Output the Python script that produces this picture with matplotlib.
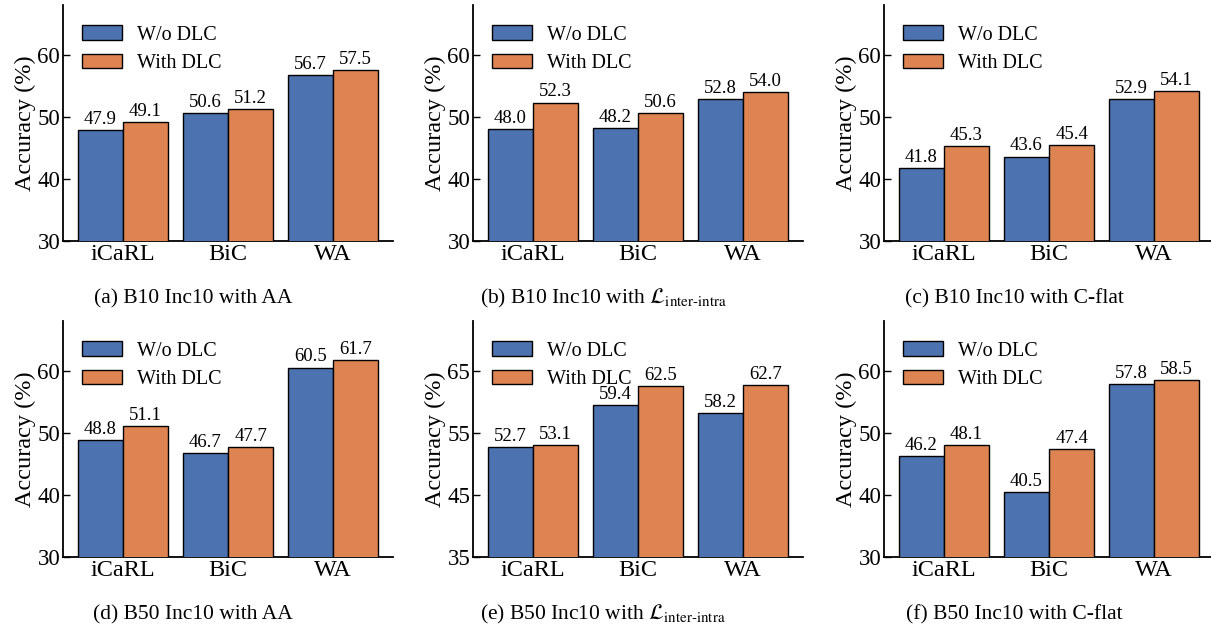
import matplotlib
matplotlib.use("Agg")
import matplotlib.pyplot as plt
from matplotlib.patches import Patch

plt.rcParams['font.family'] = ['Liberation Serif', 'DejaVu Serif']
plt.rcParams['mathtext.fontset'] = 'stix'

methods = ["iCaRL", "BiC", "WA"]
series_names = ["W/o DLC", "With DLC"]
colors = ["#4C72B0", "#DD8452"]

captions = [
    "(a) B10 Inc10 with AA",
    r"(b) B10 Inc10 with $\mathcal{L}_{\mathrm{inter}\text{-}\mathrm{intra}}$",
    "(c) B10 Inc10 with C-flat",
    "(d) B50 Inc10 with AA",
    r"(e) B50 Inc10 with $\mathcal{L}_{\mathrm{inter}\text{-}\mathrm{intra}}$",
    "(f) B50 Inc10 with C-flat",
]

wo_dlc = [
    [47.9, 50.6, 56.7],
    [48.0, 48.2, 52.8],
    [41.8, 43.6, 52.9],
    [48.8, 46.7, 60.5],
    [52.7, 59.4, 58.2],
    [46.2, 40.5, 57.8],
]
with_dlc = [
    [49.1, 51.2, 57.5],
    [52.3, 50.6, 54.0],
    [45.3, 45.4, 54.1],
    [51.1, 47.7, 61.7],
    [53.1, 62.5, 62.7],
    [48.1, 47.4, 58.5],
]

y_limits = [(30, 68), (30, 68), (30, 68), (30, 68), (35, 73), (30, 68)]
y_ticks = [[30, 40, 50, 60], [30, 40, 50, 60], [30, 40, 50, 60],
           [30, 40, 50, 60], [35, 45, 55, 65], [30, 40, 50, 60]]

W, H = 1211, 624
fig = plt.figure(figsize=(W / 100, H / 100), dpi=100)

# axes boxes in pixels: left spine x, top y
lefts = [63, 473, 884]
tops = [5, 321]
ax_w, ax_h = 330, 236
bw = 0.43

for i in range(6):
    r, c = divmod(i, 3)
    x0, y0 = lefts[c], tops[r]
    ax = fig.add_axes([x0 / W, 1 - (y0 + ax_h) / H, ax_w / W, ax_h / H])
    xs = range(len(methods))
    b1 = ax.bar([x - bw / 2 for x in xs], wo_dlc[i], bw, color=colors[0],
                edgecolor='black', linewidth=1.0, zorder=3)
    b2 = ax.bar([x + bw / 2 for x in xs], with_dlc[i], bw, color=colors[1],
                edgecolor='black', linewidth=1.0, zorder=3)
    for bars in (b1, b2):
        ax.bar_label(bars, labels=[f"{v:.1f}" for v in bars.datavalues],
                     padding=1.5, fontsize=13.5)
    ax.set_ylim(*y_limits[i])
    ax.set_yticks(y_ticks[i])
    ax.set_xlim(-0.57, 2.57)
    ax.set_xticks(list(xs))
    ax.set_xticklabels(methods, fontsize=17.5)
    ax.tick_params(axis='y', direction='in', labelsize=16.5, length=5, width=1, pad=2)
    ax.tick_params(axis='x', length=0, pad=2)
    for s in ('top', 'right'):
        ax.spines[s].set_visible(False)
    for s in ('left', 'bottom'):
        ax.spines[s].set_linewidth(1.3)
    ax.set_ylabel("Accuracy (%)", fontsize=17.5, labelpad=1)
    handles = [Patch(facecolor=colors[k], edgecolor='black', label=series_names[k])
               for k in range(2)]
    ax.legend(handles=handles, loc='upper left', bbox_to_anchor=(0.02, 0.965),
              frameon=False, fontsize=14.5, handlelength=2.0, handleheight=0.72,
              handletextpad=0.75, labelspacing=0.45, borderaxespad=0.2)
    ax.text(0.5 - 35 / ax_w, -0.245, captions[i], transform=ax.transAxes, ha='center',
            va='center', fontsize=15.5)

fig.savefig("out.png", dpi=100)
